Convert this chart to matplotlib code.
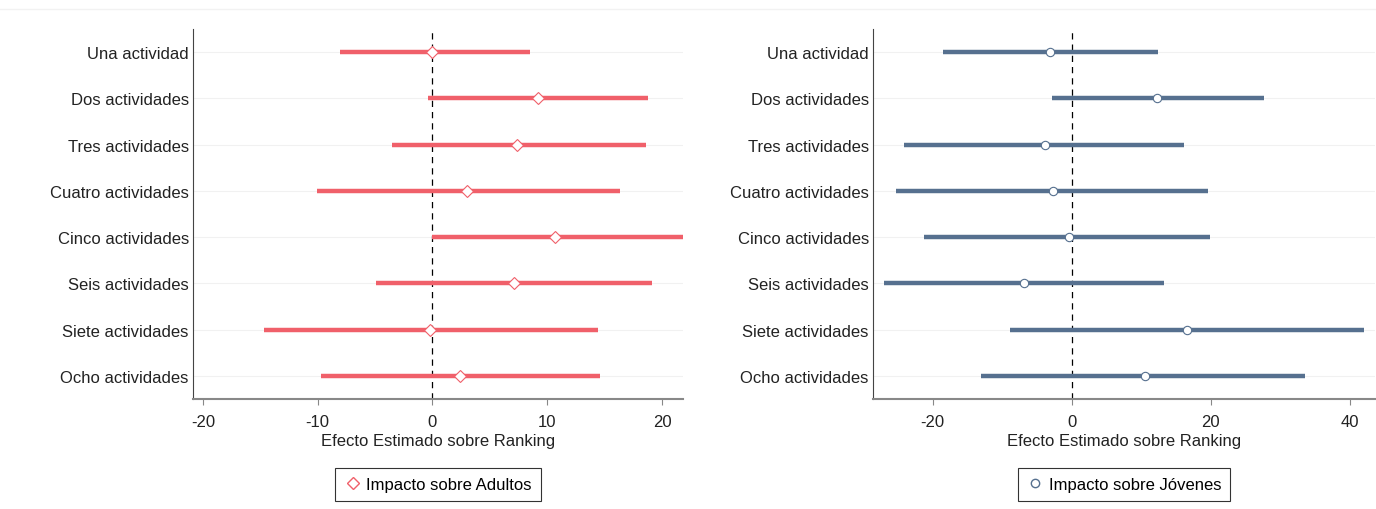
import matplotlib.pyplot as plt
import numpy as np

plt.rcParams['font.family'] = ['Liberation Sans', 'DejaVu Sans']
plt.rcParams['axes.unicode_minus'] = False

categorias = ['Una actividad', 'Dos actividades', 'Tres actividades', 'Cuatro actividades',
              'Cinco actividades', 'Seis actividades', 'Siete actividades', 'Ocho actividades']

# Adultos: estimación puntual e intervalo
adultos_est = [0.0, 9.2, 7.4, 3.0, 10.7, 7.1, -0.2, 2.4]
adultos_lo = [-8.1, -0.4, -3.5, -10.1, 0.0, -4.9, -14.7, -9.7]
adultos_hi = [8.5, 18.8, 18.6, 16.3, 21.8, 19.1, 14.4, 14.6]

# Jovenes
jovenes_est = [-3.2, 12.3, -3.9, -2.7, -0.4, -6.9, 16.6, 10.5]
jovenes_lo = [-18.6, -2.9, -24.1, -25.3, -21.2, -27.0, -8.9, -13.0]
jovenes_hi = [12.4, 27.6, 16.2, 19.6, 19.9, 13.3, 42.0, 33.5]

fig = plt.figure(figsize=(13.76, 5.10), dpi=100)
ax1 = fig.add_axes([193/1376, 110/510, 490/1376, 370/510])
ax2 = fig.add_axes([873/1376, 110/510, 502/1376, 370/510])

# linea fina arriba
fig.add_artist(plt.Line2D([0, 1], [1 - 10/510, 1 - 10/510], color='#f2f2f2', lw=1))

FS = 12


def panel(ax, est, lo, hi, color, marker, etiqueta, xlim, ticks):
    y = np.arange(len(categorias))
    for yy in y:
        ax.axhline(yy, color='#f1f1f1', lw=0.8, zorder=0)
    ax.hlines(y, lo, hi, color=color, lw=3.2, zorder=2)
    ax.plot(est, y, linestyle='none', marker=marker, ms=6, mfc='white',
            mec=color, mew=0.8, zorder=3)
    ax.axvline(0, color='black', lw=0.9, ls=(0, (5, 4)), zorder=1)
    ax.set_yticks(y)
    ax.set_yticklabels(categorias, fontsize=FS, color='#222222')
    ax.set_ylim(len(categorias) - 0.5, -0.5)
    ax.set_xlim(*xlim)
    ax.set_xticks(ticks)
    ax.tick_params(axis='x', labelsize=FS, colors='#222222', direction='out', length=4,
                   color='#888888', pad=7)
    ax.tick_params(axis='y', length=0, pad=3)
    ax.spines['top'].set_visible(False)
    ax.spines['right'].set_visible(False)
    ax.spines['left'].set_color('#444444')
    ax.spines['bottom'].set_color('#888888')
    ax.spines['bottom'].set_linewidth(1.5)
    ax.set_xlabel('Efecto Estimado sobre Ranking', fontsize=FS, color='#222222', labelpad=3)
    h = plt.Line2D([], [], linestyle='none', marker=marker, ms=6, mfc='white', mec=color, mew=1.0)
    leg = ax.legend([h], [etiqueta], loc='upper center', bbox_to_anchor=(0.5, -0.163),
                    frameon=True, fancybox=False, fontsize=FS, handletextpad=0.3,
                    handlelength=1.0, borderpad=0.55)
    leg.get_frame().set_edgecolor('black')
    leg.get_frame().set_linewidth(0.8)


panel(ax1, adultos_est, adultos_lo, adultos_hi, '#f0606a', 'D', 'Impacto sobre Adultos',
      (-20.87, 21.83), [-20, -10, 0, 10, 20])
panel(ax2, jovenes_est, jovenes_lo, jovenes_hi, '#56708f', 'o', 'Impacto sobre Jóvenes',
      (-28.6, 43.6), [-20, 0, 20, 40])

fig.savefig('out.png', dpi=100, facecolor='white')
